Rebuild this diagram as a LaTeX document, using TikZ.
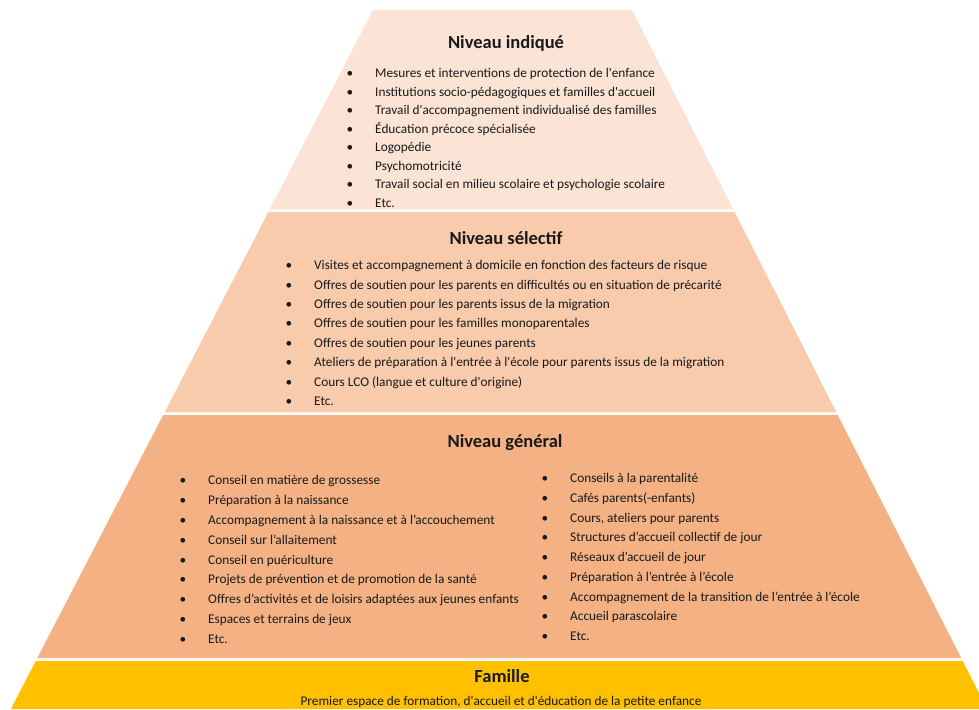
\documentclass[tikz,border=0pt]{standalone}
\usepackage{fontspec}
\setmainfont{Carlito}
\definecolor{tierindique}{RGB}{251, 228, 214}
\definecolor{tierselectif}{RGB}{248, 203, 173}
\definecolor{tiergeneral}{RGB}{244, 177, 131}
\definecolor{tierfamille}{RGB}{255, 192, 0}
\definecolor{textdark}{RGB}{25, 25, 25}
\newcommand{\apo}{\textquotesingle}
\newcommand{\puce}{\llap{\textbullet\hspace{22pt}}}
\tikzset{
  tiertitle/.style={inner sep=0pt, font=\fontsize{18.5}{22}\selectfont\bfseries, text=textdark},
  tieritem/.style={anchor=base west, inner sep=0pt, font=\fontsize{13.3}{16}\selectfont, text=textdark},
}

\begin{document}
\begin{tikzpicture}[x=1pt, y=-1pt]
  \useasboundingbox (0, 0) rectangle (979, 709);
  \clip (0, 0) rectangle (979, 709);

  % The tiers of the pyramid
  \fill[tierindique] (373, 10) -- (632, 10) -- (733.1, 209) -- (269.9, 209) -- cycle;
  \fill[tierselectif] (268.4, 212) -- (734.6, 212) -- (836.2, 412) -- (164.8, 412) -- cycle;
  \fill[tiergeneral] (163.2, 415) -- (837.7, 415) -- (961.2, 658) -- (37.3, 658) -- cycle;
  \fill[tierfamille] (35.8, 661) -- (962.7, 661) -- (987.1, 709) -- (10.9, 709) -- cycle;

  % Niveau indique
  \node[tiertitle] (indique) at (506, 43) {Niveau indiqué};
  \foreach \txt [count=\i] in {
      Mesures et interventions de protection de l\apo enfance,
      Institutions socio-pédagogiques et familles d\apo accueil,
      Travail d\apo accompagnement individualisé des familles,
      Éducation précoce spécialisée,
      Logopédie,
      Psychomotricité,
      Travail social en milieu scolaire et psychologie scolaire,
      Etc.}
    \node[tieritem] (ind\i) at (375, {59 + 18.57*\i}) {\puce\txt};

  % Niveau selectif
  \node[tiertitle] (selectif) at (506, 238) {Niveau sélectif};
  \foreach \txt [count=\i] in {
      Visites et accompagnement à domicile en fonction des facteurs de risque,
      Offres de soutien pour les parents en difficultés ou en situation de précarité,
      Offres de soutien pour les parents issus de la migration,
      Offres de soutien pour les familles monoparentales,
      Offres de soutien pour les jeunes parents,
      Ateliers de préparation à l\apo entrée à l\apo école pour parents issus de la migration,
      Cours LCO (langue et culture d\apo origine),
      Etc.}
    \node[tieritem] (sel\i) at (314, {250.2 + 19.43*\i}) {\puce\txt};

  % Niveau general, two columns
  \node[tiertitle] (general) at (505, 443) {Niveau général};
  \foreach \txt [count=\i] in {
      Conseil en matière de grossesse,
      Préparation à la naissance,
      Accompagnement à la naissance et à l’accouchement,
      Conseil sur l’allaitement,
      Conseil en puériculture,
      Projets de prévention et de promotion de la santé,
      Offres d’activités et de loisirs adaptées aux jeunes enfants,
      Espaces et terrains de jeux,
      Etc.}
    \node[tieritem] (genl\i) at (208, {464.7 + 19.88*\i}) {\puce\txt};
  \foreach \txt [count=\i] in {
      Conseils à la parentalité,
      Cafés parents(-enfants),
      {Cours, ateliers pour parents},
      Structures d’accueil collectif de jour,
      Réseaux d’accueil de jour,
      Préparation à l’entrée à l’école,
      Accompagnement de la transition de l’entrée à l’école,
      Accueil parascolaire,
      Etc.}
    \node[tieritem] (genr\i) at (570, {462.8 + 19.75*\i}) {\puce\txt};

  % Famille
  \node[tiertitle] (famille) at (502, 676) {Famille};
  \node[tieritem, anchor=base] (famdesc) at (501, 705) {Premier espace de formation, d\apo accueil et d\apo éducation de la petite enfance};
\end{tikzpicture}
\end{document}
